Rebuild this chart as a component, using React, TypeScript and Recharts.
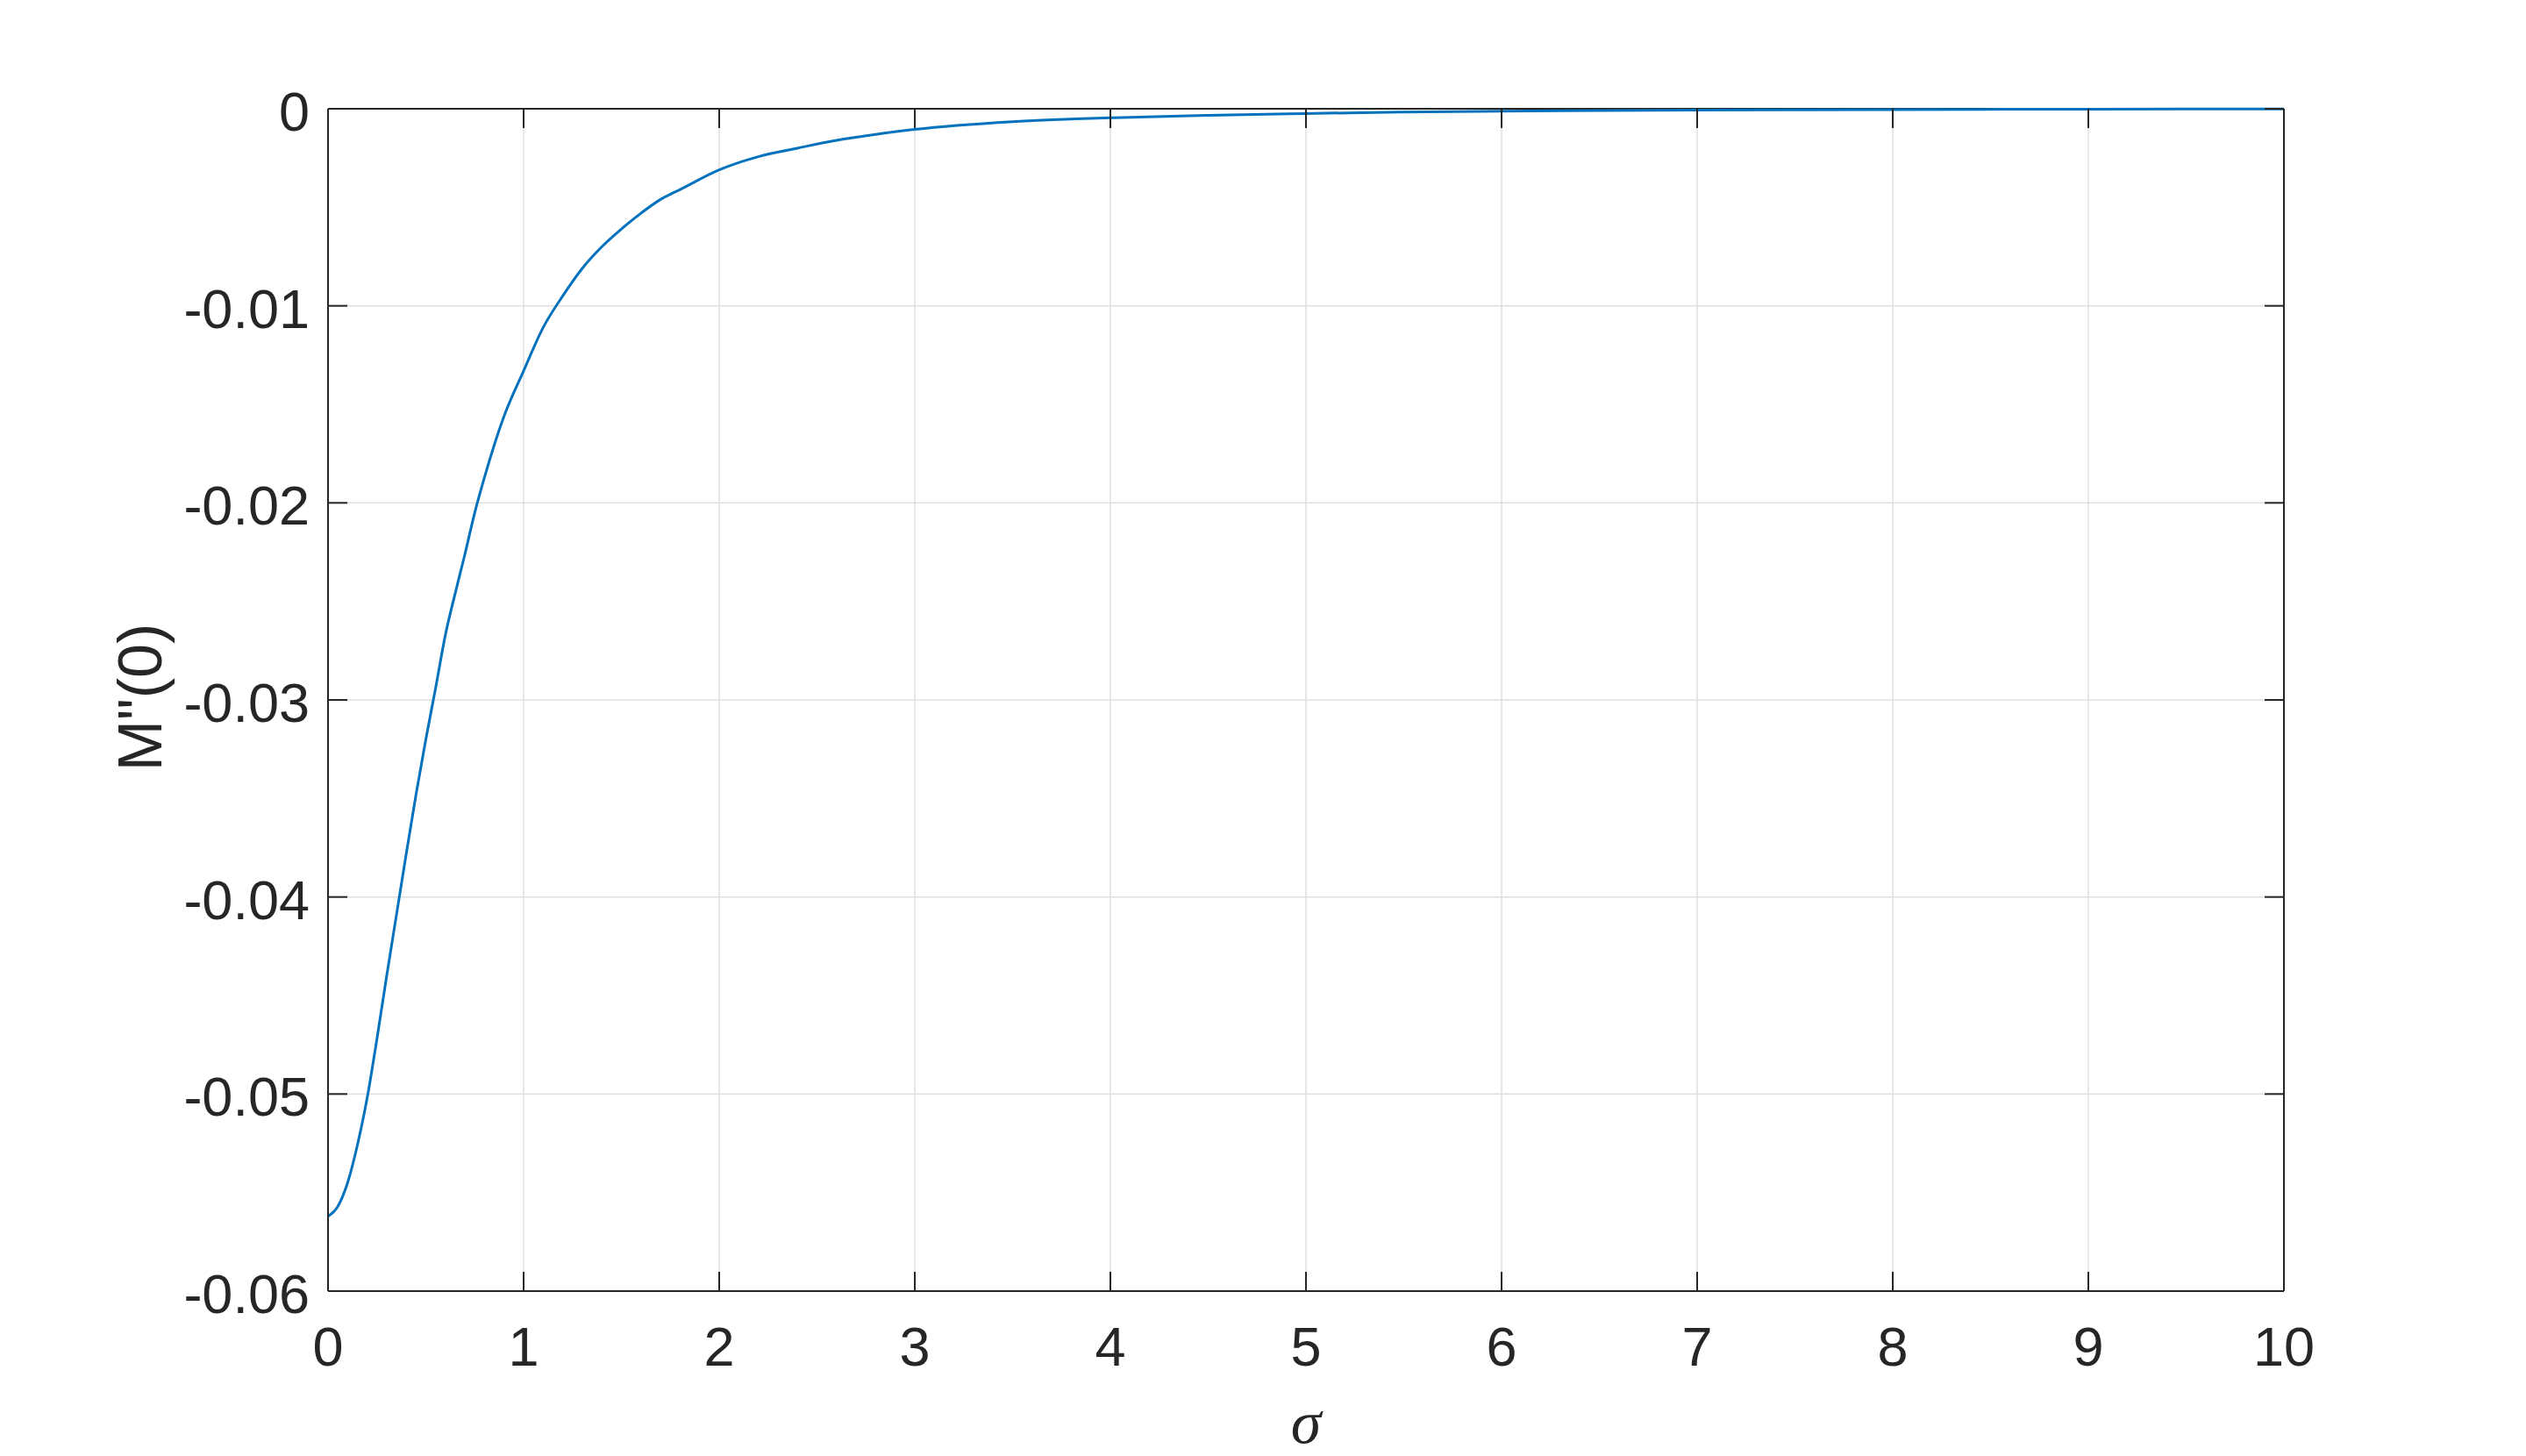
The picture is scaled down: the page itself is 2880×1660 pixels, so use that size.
import { LineChart, Line, XAxis, YAxis, CartesianGrid, Label, ReferenceLine } from "recharts"

const sigma = [
  0, 0.05, 0.1, 0.15, 0.2, 0.25, 0.3, 0.35, 0.4, 0.45, 0.5, 0.55, 0.6, 0.65, 0.7, 0.75, 0.8, 0.9,
  1.0, 1.1, 1.2, 1.3, 1.4, 1.5, 1.6, 1.7, 1.8, 2.0, 2.2, 2.4, 2.6, 2.8, 3.0, 3.5, 4.0, 4.5, 5.0,
  5.5, 6.0, 7.0, 8.0, 9.0, 10.0,
]

const mpp = [
  -0.0562, -0.0557, -0.0545, -0.0526, -0.0502, -0.0472, -0.044, -0.0409, -0.0378, -0.0348,
  -0.032, -0.0294, -0.0267, -0.0246, -0.0226, -0.0205, -0.0187, -0.0156, -0.0133, -0.0111,
  -0.0095, -0.0081, -0.007, -0.0061, -0.0053, -0.0046, -0.0041, -0.0031, -0.00243, -0.002,
  -0.0016, -0.0013, -0.00105, -0.00066, -0.00046, -0.00033, -0.00024, -0.00017, -0.00012,
  -0.00007, -0.00004, -0.00002, -0.00001,
]

const xTicks = [0, 1, 2, 3, 4, 5, 6, 7, 8, 9, 10]
const yTicks = [-0.06, -0.05, -0.04, -0.03, -0.02, -0.01, 0]

const data = sigma.map((s, i) => ({ s, v: mpp[i] }))

const INK = "#262626"
const FONT = "'Liberation Sans', Arial, Helvetica, sans-serif"
const TICK_LEN = 22

// plot box in chart pixels (from margins / axis sizes below)
const W = 2864
const H = 1652
const LEFT = 366
const TOP = 116
const RIGHT = 2596
const BOTTOM = 1464

const fmtY = (v: number) => (v === 0 ? "0" : v.toFixed(2))

function BottomTick({ x, payload }: any) {
  return (
    <g>
      <line x1={x} y1={BOTTOM} x2={x} y2={BOTTOM - TICK_LEN} stroke={INK} strokeWidth={2} />
      <line x1={x} y1={TOP} x2={x} y2={TOP + TICK_LEN} stroke={INK} strokeWidth={2} />
      <text x={x} y={BOTTOM + 85} textAnchor="middle" fontSize={63} fontFamily={FONT} fill={INK}>
        {payload.value}
      </text>
    </g>
  )
}

function LeftTick({ y, payload }: any) {
  return (
    <g>
      <line x1={LEFT} y1={y} x2={LEFT + TICK_LEN} y2={y} stroke={INK} strokeWidth={2} />
      <line x1={RIGHT} y1={y} x2={RIGHT - TICK_LEN} y2={y} stroke={INK} strokeWidth={2} />
      <text x={LEFT - 21} y={y + 25} textAnchor="end" fontSize={63} fontFamily={FONT} fill={INK}>
        {fmtY(payload.value)}
      </text>
    </g>
  )
}

export default function App() {
  return (
    <div style={{ width: W, height: H, background: "#fff" }}>
      <LineChart
        width={W}
        height={H}
        data={data}
        margin={{ top: TOP, right: W - RIGHT, bottom: H - BOTTOM - 180, left: 0 }}
      >
        <CartesianGrid stroke="#dfdfdf" strokeWidth={1.5} />
        <XAxis
          dataKey="s"
          type="number"
          domain={[0, 10]}
          ticks={xTicks}
          height={180}
          tickSize={0}
          tickMargin={0}
          tickLine={false}
          axisLine={{ stroke: INK, strokeWidth: 2 }}
          tick={<BottomTick />}
          interval={0}
        >
          <Label
            content={() => (
              <text
                x={(LEFT + RIGHT) / 2}
                y={1637}
                textAnchor="middle"
                fontSize={70}
                fontStyle="italic"
                fontFamily="'Liberation Serif', 'Times New Roman', serif"
                fill={INK}
              >
                σ
              </text>
            )}
          />
        </XAxis>
        <YAxis
          type="number"
          domain={[-0.06, 0]}
          ticks={yTicks}
          width={LEFT}
          tickSize={0}
          tickMargin={0}
          tickLine={false}
          axisLine={{ stroke: INK, strokeWidth: 2 }}
          tick={<LeftTick />}
          interval={0}
        >
          <Label
            content={() => (
              <text
                x={0}
                y={0}
                transform={`translate(176 ${(TOP + BOTTOM) / 2 - 3}) rotate(-90)`}
                textAnchor="middle"
                fontSize={70}
                fontFamily={FONT}
                fill={INK}
              >
                M"(0)
              </text>
            )}
          />
        </YAxis>
        <ReferenceLine y={0} stroke={INK} strokeWidth={2} />
        <ReferenceLine x={10} stroke={INK} strokeWidth={2} />
        <Line
          type="monotone"
          dataKey="v"
          stroke="#0072BD"
          strokeWidth={3}
          dot={false}
          activeDot={false}
          isAnimationActive={false}
        />
      </LineChart>
    </div>
  )
}
